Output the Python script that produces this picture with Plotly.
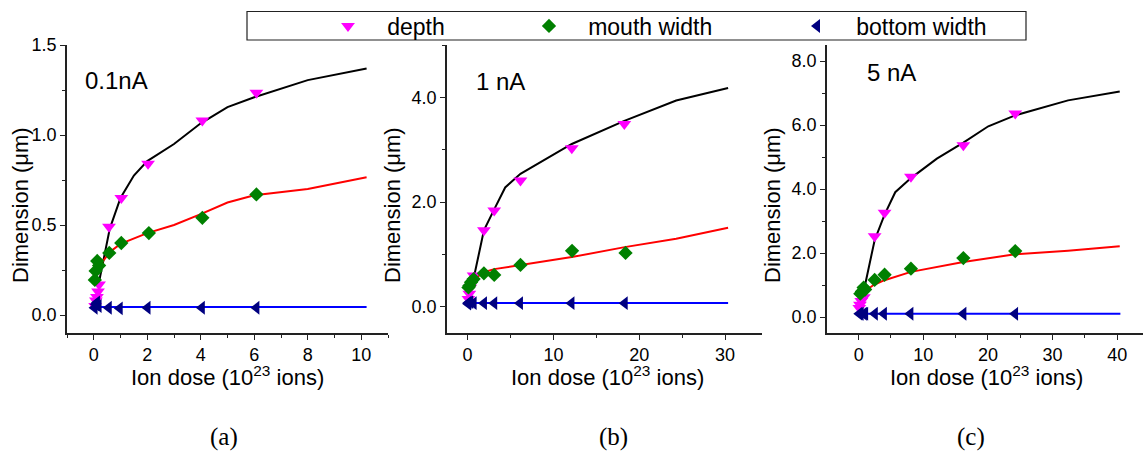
import plotly.graph_objects as go

W, H = 1143, 453

# ---------------- data ----------------
# panel (a) 0.1 nA
a_depth_x = [0.05, 0.08, 0.12, 0.16, 0.2, 0.57, 1.03, 2.03, 4.06, 6.08]
a_depth_y = [0.05, 0.08, 0.10, 0.13, 0.17, 0.49, 0.65, 0.84, 1.08, 1.235]
a_mouth_x = [0.04, 0.07, 0.13, 0.2, 0.58, 1.03, 2.06, 4.06, 6.08]
a_mouth_y = [0.195, 0.245, 0.30, 0.275, 0.345, 0.40, 0.455, 0.54, 0.67]
a_bottom_x = [0.03, 0.08, 0.12, 0.18, 0.56, 0.97, 2.01, 4.04, 6.08]
a_bottom_y = [0.04, 0.06, 0.07, 0.05, 0.04, 0.037, 0.04, 0.04, 0.04]
a_fitd_x = [0.22, 0.6, 1.0, 1.5, 2.0, 3.0, 4.0, 5.0, 6.0, 8.0, 10.2]
a_fitd_y = [0.20, 0.48, 0.65, 0.775, 0.855, 0.95, 1.065, 1.155, 1.21, 1.305, 1.37]
a_fitm_x = [0.2, 0.6, 1.0, 1.5, 2.0, 3.0, 4.0, 5.0, 6.0, 8.0, 10.2]
a_fitm_y = [0.27, 0.35, 0.395, 0.425, 0.455, 0.50, 0.56, 0.625, 0.665, 0.70, 0.765]
a_fitb_x = [0.0, 10.2]
a_fitb_y = [0.045, 0.045]

# panel (b) 1 nA
b_depth_x = [0.1, 0.2, 0.31, 0.7, 1.9, 3.1, 6.16, 12.14, 18.26]
b_depth_y = [0.15, 0.25, 0.37, 0.60, 1.46, 1.84, 2.41, 3.03, 3.49]
b_mouth_x = [0.1, 0.2, 0.4, 0.7, 1.9, 3.1, 6.16, 12.17, 18.4]
b_mouth_y = [0.37, 0.40, 0.47, 0.53, 0.64, 0.61, 0.80, 1.07, 1.03]
b_bottom_x = [0.05, 0.1, 0.3, 0.7, 1.9, 3.1, 6.1, 12.1, 18.3]
b_bottom_y = [0.06, 0.08, 0.09, 0.07, 0.07, 0.07, 0.07, 0.07, 0.07]
b_fitd_x = [0.82, 1.9, 3.1, 4.38, 6.16, 12.14, 18.26, 24.3, 30.35]
b_fitd_y = [0.63, 1.46, 1.86, 2.28, 2.54, 3.11, 3.55, 3.94, 4.18]
b_fitm_x = [0.5, 1.9, 3.1, 6.16, 12.14, 18.3, 24.3, 30.35]
b_fitm_y = [0.50, 0.66, 0.72, 0.80, 0.95, 1.14, 1.30, 1.51]
b_fitb_x = [0.0, 30.35]
b_fitb_y = [0.075, 0.075]

# panel (c) 5 nA
c_depth_x = [0.1, 0.2, 0.4, 0.8, 2.47, 4.01, 8.09, 16.2, 24.23]
c_depth_y = [0.28, 0.38, 0.50, 0.62, 2.52, 3.26, 4.38, 5.37, 6.36]
c_mouth_x = [0.26, 0.5, 0.77, 1.0, 2.47, 4.01, 8.09, 16.2, 24.23]
c_mouth_y = [0.73, 0.80, 0.92, 0.86, 1.16, 1.32, 1.51, 1.84, 2.06]
c_bottom_x = [0.1, 0.3, 0.8, 1.0, 2.5, 3.9, 8.0, 16.2, 24.2]
c_bottom_y = [0.1, 0.1, 0.1, 0.1, 0.1, 0.1, 0.1, 0.1, 0.1]
c_fitd_x = [1.03, 2.47, 4.01, 5.66, 8.09, 12.1, 16.2, 20.06, 24.2, 32.4, 40.4]
c_fitd_y = [1.04, 2.40, 3.20, 3.90, 4.34, 4.95, 5.45, 5.96, 6.30, 6.77, 7.05]
c_fitm_x = [0.77, 2.3, 4.0, 8.09, 16.2, 24.2, 32.4, 40.4]
c_fitm_y = [0.78, 1.00, 1.15, 1.41, 1.72, 1.96, 2.07, 2.21]
c_fitb_x = [0.0, 40.5]
c_fitb_y = [0.1, 0.1]

panel_titles = ["0.1nA", "1 nA", "5 nA"]
panel_letters = ["(a)", "(b)", "(c)"]
series_names = ["depth", "mouth width", "bottom width"]

# ---------------- layout helpers (pixels -> paper) ----------------
def px(x):
    return x / W

def py(y):
    return 1 - y / H

FONT = "Liberation Sans, Arial, sans-serif"
SERIF = "Liberation Serif, Times New Roman, serif"

x_dom = [(67, 388), (447, 762), (827, 1143)]
y_top, y_bot = 45, 333
x_ranges = [[-1, 11], [-2.4, 34.3], [-4.9, 44]]
x_dtick = [2, 10, 10]
x_minor = [1, 5, 5]
y_ranges = [[-0.1, 1.5], [-0.5, 5.0], [-0.5, 8.5]]
y_dtick = [0.5, 2.0, 2.0]
y_minor = [0.25, 1.0, 1.0]

fig = go.Figure()

panels = [
    (a_depth_x, a_depth_y, a_mouth_x, a_mouth_y, a_bottom_x, a_bottom_y,
     a_fitd_x, a_fitd_y, a_fitm_x, a_fitm_y, a_fitb_x, a_fitb_y),
    (b_depth_x, b_depth_y, b_mouth_x, b_mouth_y, b_bottom_x, b_bottom_y,
     b_fitd_x, b_fitd_y, b_fitm_x, b_fitm_y, b_fitb_x, b_fitb_y),
    (c_depth_x, c_depth_y, c_mouth_x, c_mouth_y, c_bottom_x, c_bottom_y,
     c_fitd_x, c_fitd_y, c_fitm_x, c_fitm_y, c_fitb_x, c_fitb_y),
]

marker_styles = [
    dict(symbol="triangle-down", color="#FF00FF", size=12),
    dict(symbol="diamond", color="#008000", size=11),
    dict(symbol="triangle-left", color="#000080", size=12),
]
line_colors = ["#000000", "#FF0000", "#0000FF"]
legend_ids = ["legend", "legend2", "legend3"]
NBSP = "\u00a0"

for i, p in enumerate(panels):
    xa = "x" if i == 0 else f"x{i+1}"
    ya = "y" if i == 0 else f"y{i+1}"
    fits = [(p[6], p[7]), (p[8], p[9]), (p[10], p[11])]
    pts = [(p[0], p[1]), (p[2], p[3]), (p[4], p[5])]
    for k, (fx, fy) in enumerate(fits):
        fig.add_trace(go.Scatter(x=fx, y=fy, mode="lines", xaxis=xa, yaxis=ya,
                                 line=dict(color=line_colors[k], width=2),
                                 showlegend=False, hoverinfo="skip"))
    for k, (mx, my) in enumerate(pts):
        fig.add_trace(go.Scatter(x=mx, y=my, mode="markers", xaxis=xa, yaxis=ya,
                                 marker=dict(symbol=marker_styles[k]["symbol"],
                                             color=marker_styles[k]["color"],
                                             size=marker_styles[k]["size"],
                                             line=dict(width=0)),
                                 name=NBSP * 3 + series_names[k],
                                 legend=legend_ids[k],
                                 showlegend=(i == 0)))

layout = dict(
    width=W, height=H,
    margin=dict(l=0, r=0, t=0, b=0, pad=0, autoexpand=False),
    paper_bgcolor="white", plot_bgcolor="white",
    font=dict(family=FONT, size=18, color="black"),
)

axis_line = dict(showline=True, linecolor="#222", linewidth=1.5, showgrid=False,
                 zeroline=False, ticks="outside", ticklen=5, tickwidth=1.2,
                 tickcolor="#222", tickfont=dict(size=18, family=FONT),
                 automargin=False)

for i in range(3):
    xs = "xaxis" if i == 0 else f"xaxis{i+1}"
    ys = "yaxis" if i == 0 else f"yaxis{i+1}"
    yref = "y" if i == 0 else f"y{i+1}"
    xref = "x" if i == 0 else f"x{i+1}"
    layout[xs] = dict(axis_line, domain=[px(x_dom[i][0]), px(x_dom[i][1])],
                      range=x_ranges[i], dtick=x_dtick[i], tick0=0, anchor=yref,
                      minor=dict(dtick=x_minor[i], tick0=0, ticks="outside",
                                 ticklen=3, tickcolor="#222", tickwidth=1))
    layout[ys] = dict(axis_line, domain=[py(y_bot), py(y_top)],
                      range=y_ranges[i], dtick=y_dtick[i], tick0=0, anchor=xref,
                      tickformat=".1f",
                      minor=dict(dtick=y_minor[i], tick0=0, ticks="outside",
                                 ticklen=3, tickcolor="#222", tickwidth=1))

# legends
leg_marker_px = [348, 549, 817]
for k, lid in enumerate(legend_ids):
    layout[lid] = dict(x=px(leg_marker_px[k] - 20), y=py(26), xanchor="left",
                       yanchor="middle", bgcolor="rgba(0,0,0,0)", borderwidth=0,
                       font=dict(size=23, family=FONT), orientation="h")

fig.update_layout(**layout)

fig.add_shape(type="rect", xref="paper", yref="paper",
              x0=px(247), x1=px(1026), y0=py(40), y1=py(11.5),
              line=dict(color="#222", width=1.2), fillcolor="rgba(0,0,0,0)")

# annotations
title_pos = [(83, 80), (474, 81), (865, 73)]
for i, t in enumerate(panel_titles):
    fig.add_annotation(text=t, xref="paper", yref="paper", x=px(title_pos[i][0]),
                       y=py(title_pos[i][1]), xanchor="left", yanchor="middle",
                       showarrow=False, font=dict(size=24, family=FONT))

ytitle_x = [20, 392, 772]
xtitle_x = [227, 607, 987]
letter_x = [224, 613, 971]
for i in range(3):
    fig.add_annotation(text="Dimension (\u03bcm)", xref="paper", yref="paper",
                       x=px(ytitle_x[i]), y=py(205), textangle=-90, showarrow=False,
                       xanchor="center", yanchor="middle",
                       font=dict(size=22, family=FONT))
    fig.add_annotation(text="Ion dose (10<sup>23</sup> ions)", xref="paper", yref="paper",
                       x=px(xtitle_x[i]), y=py(376), showarrow=False,
                       xanchor="center", yanchor="middle",
                       font=dict(size=22, family=FONT))
    fig.add_annotation(text=panel_letters[i], xref="paper", yref="paper",
                       x=px(letter_x[i]), y=py(437), showarrow=False,
                       xanchor="center", yanchor="middle",
                       font=dict(size=25, family=SERIF))

fig.write_html("out.html")
